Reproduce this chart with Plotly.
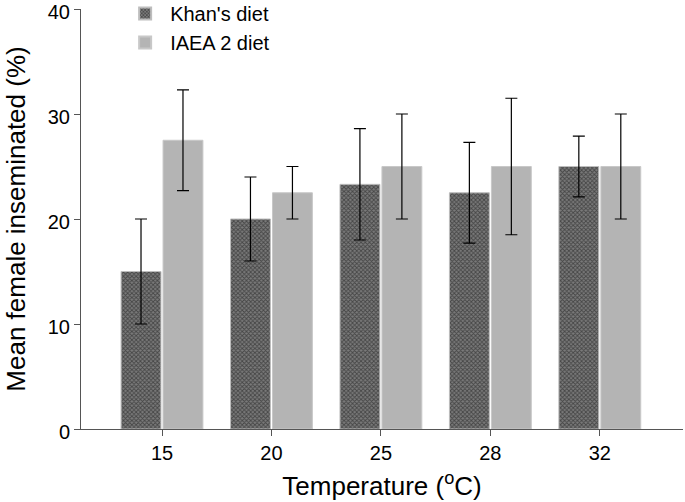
import plotly.graph_objects as go

temps = ["15", "20", "25", "28", "32"]
khan = [15.0, 20.0, 23.3, 22.5, 25.0]
khan_err = [5.0, 4.0, 5.3, 4.8, 2.9]
iaea = [27.5, 22.5, 25.0, 25.0, 25.0]
iaea_err = [4.8, 2.5, 5.0, 6.5, 5.0]

fig = go.Figure()
fig.add_trace(go.Bar(
    x=temps, y=khan, name="Khan's diet",
    marker=dict(color="#777777", line=dict(color="#bdbdbd", width=1),
                pattern=dict(shape="x", fgcolor="#111111", bgcolor="#7a7a7a", size=3, solidity=0.5)),
    error_y=dict(type="data", array=khan_err, color="black", thickness=1.2, width=6),
))
fig.add_trace(go.Bar(
    x=temps, y=iaea, name="IAEA 2 diet",
    marker=dict(color="#b4b4b4", line=dict(color="#c8c8c8", width=1)),
    error_y=dict(type="data", array=iaea_err, color="black", thickness=1.2, width=6),
))

font = "Liberation Sans, Arial, sans-serif"
fig.update_layout(
    width=685, height=502,
    margin=dict(l=81, r=2, t=9, b=73, autoexpand=False),
    plot_bgcolor="white", paper_bgcolor="white",
    barmode="group", bargap=0.233, bargroupgap=0.05,
    font=dict(family=font, size=20, color="black"),
    showlegend=True,
    legend=dict(x=0.065, y=1.036, xanchor="left", yanchor="top",
                font=dict(size=20), bgcolor="rgba(0,0,0,0)", itemsizing="constant",
                tracegroupgap=0, itemwidth=40),
    xaxis=dict(
        type="category", range=[-0.74, 4.76], automargin=False,
        showline=True, linecolor="#555", linewidth=1,
        ticks="outside", ticklen=6, tickcolor="#555",
        tickfont=dict(size=20),
        title=dict(text="Temperature (<sup>o</sup>C)", font=dict(size=26), standoff=13),
        showgrid=False, zeroline=False,
    ),
    yaxis=dict(
        range=[0, 40], tickvals=[0, 10, 20, 30, 40], automargin=False,
        ticklabeloverflow="allow", ticklabelshift=3,
        showline=True, linecolor="#555", linewidth=1,
        ticks="outside", ticklen=6, tickcolor="#555",
        tickfont=dict(size=20),
        title=dict(text="Mean female inseminated (%)", font=dict(size=26), standoff=14),
        showgrid=False, zeroline=False,
    ),
)

fig.write_html("out.html", config={"displayModeBar": False},
               post_script="document.body.style.margin='0';")
